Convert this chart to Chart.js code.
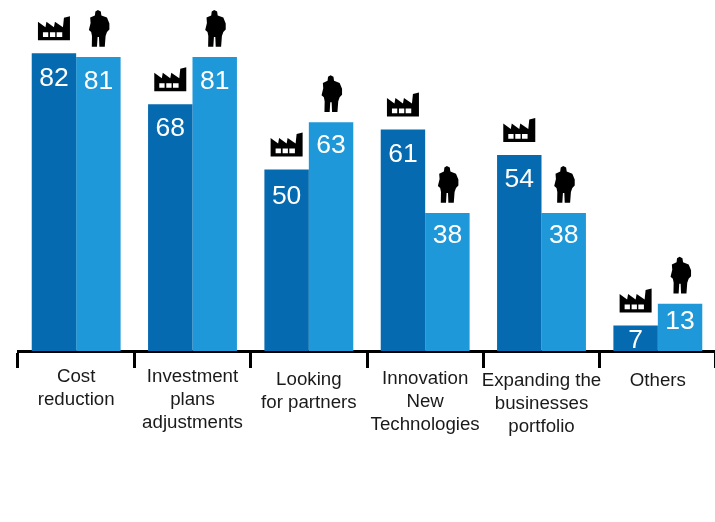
<!DOCTYPE html>
<html>
<head>
<meta charset="utf-8">
<style>
  html, body { margin: 0; padding: 0; background: #fff; overflow: hidden; width: 715px; height: 522px; }
  canvas { display: block; }
</style>
<script src="https://cdn.jsdelivr.net/npm/chart.js@4/dist/chart.umd.min.js"></script>
</head>
<body>
<canvas id="actions" width="730" height="522"></canvas>
<script>
const categories = [
  ['Cost', 'reduction'],
  ['Investment', 'plans', 'adjustments'],
  ['Looking', 'for partners'],
  ['Innovation', 'New', 'Technologies'],
  ['Expanding the', 'businesses', 'portfolio'],
  ['Others']
];
const companies = [82, 68, 50, 61, 54, 7];
const people = [81, 81, 63, 38, 38, 13];

// middle of the first line of each category label
const labelTops = [377, 377, 380, 379, 381, 381];
// how far below the bar top each number sits
const companyDrop = [25, 25, 27, 25, 25, 15];
const peopleDrop = [25, 25, 23, 23, 23, 18];

const DARK = '#066ab1';
const LIGHT = '#1e98d8';

// 32 x 24 building with saw-tooth roof and a chimney, three windows cut out
const factory = new Path2D('M0 5.5 L7.5 11 L8.5 5.5 L16 11 L17 5.5 L25 11 L26 1.5 L32 0 L32 24 L0 24 Z ' +
  'M5 16 L5 20.7 L10.3 20.7 L10.3 16 Z M12 16 L12 20.7 L17.3 20.7 L17.3 16 Z M18.7 16 L18.7 20.7 L24.3 20.7 L24.3 16 Z');

// 21 x 37 standing figure
const person = new Path2D('M9.5 0 L7 1.5 L6.5 5.5 L1.8 7.6 L2.2 13 L0.5 20 L2.8 22 L3.6 26 L3.4 36.8 L8.6 36.8 ' +
  'L9.2 27 L10.6 27 L11 36.8 L16.4 36.8 L17.2 26 L18.6 22 L21 19.5 L21 13.5 L18.6 7.6 L13 5.5 L12.4 1.5 Z');

const marksPlugin = {
  id: 'marks',
  afterDatasetsDraw(chart) {
    const ctx = chart.ctx;
    [0, 1].forEach(d => {
      const drops = d === 0 ? companyDrop : peopleDrop;
      chart.getDatasetMeta(d).data.forEach((bar, i) => {
        ctx.save();
        ctx.fillStyle = '#fff';
        ctx.font = '26.5px "Liberation Sans", Arial, sans-serif';
        ctx.textAlign = 'center';
        ctx.textBaseline = 'middle';
        ctx.fillText(chart.data.datasets[d].data[i], bar.x, bar.y + drops[i]);

        ctx.fillStyle = '#000';
        if (d === 0) {
          ctx.translate(bar.x - 16, bar.y - 37);
          ctx.fill(factory, 'evenodd');
        } else {
          ctx.translate(bar.x - 10, bar.y - 47);
          ctx.fill(person);
        }
        ctx.restore();
      });
    });

    // category names, one line at a time
    ctx.save();
    ctx.fillStyle = '#1a1a1a';
    ctx.font = '18.7px "Liberation Sans", Arial, sans-serif';
    ctx.textAlign = 'center';
    ctx.textBaseline = 'middle';
    categories.forEach((lines, i) => {
      const x = chart.scales.x.getPixelForValue(i);
      lines.forEach((line, n) => ctx.fillText(line, x, labelTops[i] + n * 22.7));
    });
    ctx.restore();
  }
};

new Chart(document.getElementById('actions'), {
  type: 'bar',
  data: {
    labels: categories,
    datasets: [
      { label: 'Companies', data: companies, backgroundColor: DARK },
      { label: 'People', data: people, backgroundColor: LIGHT }
    ]
  },
  options: {
    responsive: false,
    animation: false,
    layout: { padding: { left: 18, right: 14, top: 0, bottom: 154 } },
    plugins: { legend: { display: false }, tooltip: { enabled: false } },
    datasets: { bar: { barPercentage: 1, categoryPercentage: 0.764 } },
    scales: {
      x: {
        border: { color: '#000', width: 3 },
        grid: { offset: true, drawOnChartArea: false, drawTicks: true, tickLength: 17, color: '#000', lineWidth: 3 },
        ticks: { display: false }
      },
      y: { display: false, min: 0, max: 96.7 }
    }
  },
  plugins: [marksPlugin]
});
</script>
</body>
</html>
